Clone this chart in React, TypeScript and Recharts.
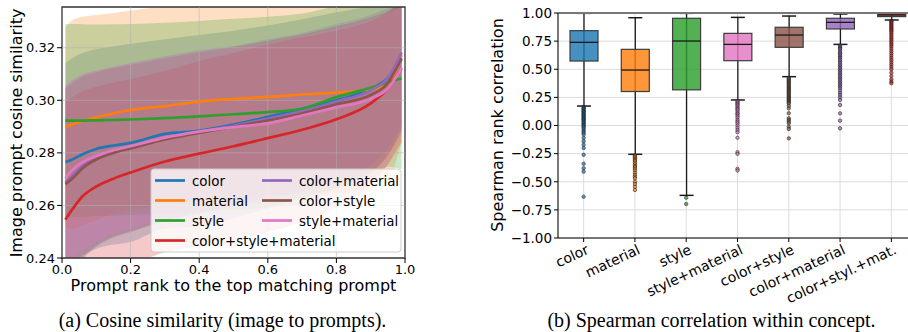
import React from 'react'
import {
  ComposedChart,
  Area,
  Line,
  Bar,
  Scatter,
  XAxis,
  YAxis,
  CartesianGrid,
  ReferenceLine,
  ReferenceArea,
} from 'recharts'

// ---- (a) cosine similarity vs prompt rank ----
const RANK = [0.01, 0.03, 0.06, 0.1, 0.15, 0.2, 0.3, 0.4, 0.5, 0.6, 0.7, 0.8, 0.9, 0.95, 0.99]

const COLOR_MEAN = [0.2765, 0.2775, 0.2795, 0.2815, 0.2828, 0.2838, 0.2872, 0.2884, 0.2908, 0.2937, 0.2968, 0.3, 0.3043, 0.3085, 0.3155]
const COLOR_LO = [0.2388, 0.239, 0.241, 0.2435, 0.2451, 0.2461, 0.2512, 0.252, 0.2551, 0.2589, 0.2628, 0.2665, 0.2726, 0.279, 0.289]
const COLOR_HI = [0.3142, 0.316, 0.318, 0.3195, 0.3205, 0.3215, 0.3232, 0.3248, 0.3265, 0.3285, 0.3308, 0.3335, 0.336, 0.338, 0.341]

const MATERIAL_MEAN = [0.2899, 0.2908, 0.2922, 0.2935, 0.295, 0.2963, 0.2978, 0.2995, 0.3005, 0.3013, 0.3022, 0.3029, 0.3042, 0.3063, 0.3172]
const MATERIAL_LO = [0.252, 0.2511, 0.2526, 0.2545, 0.2568, 0.2584, 0.26, 0.262, 0.263, 0.2636, 0.2644, 0.2648, 0.2664, 0.2696, 0.284]
const MATERIAL_HI = [0.3278, 0.3305, 0.3318, 0.3325, 0.3332, 0.3342, 0.3356, 0.337, 0.338, 0.339, 0.34, 0.341, 0.342, 0.343, 0.352]

const STYLE_MEAN = [0.2923, 0.2923, 0.2923, 0.2924, 0.2925, 0.2927, 0.2932, 0.2939, 0.2947, 0.2955, 0.2968, 0.3012, 0.3048, 0.3068, 0.3084]
const STYLE_LO = [0.2556, 0.2556, 0.2557, 0.256, 0.2561, 0.2564, 0.2569, 0.2576, 0.2584, 0.2592, 0.2606, 0.2666, 0.2716, 0.2746, 0.2738]
const STYLE_HI = [0.329, 0.329, 0.3289, 0.3288, 0.3289, 0.329, 0.3295, 0.3302, 0.331, 0.3318, 0.333, 0.3358, 0.338, 0.339, 0.34]

const CSM_MEAN = [0.2546, 0.2585, 0.2635, 0.2672, 0.2702, 0.2725, 0.2767, 0.2797, 0.2825, 0.2856, 0.2888, 0.2928, 0.2988, 0.3045, 0.3122]
const CSM_LO = [0.2097, 0.2158, 0.2235, 0.2292, 0.2336, 0.237, 0.2422, 0.2444, 0.247, 0.2499, 0.2536, 0.2591, 0.2674, 0.2755, 0.284]
const CSM_HI = [0.2995, 0.3012, 0.3035, 0.3052, 0.3068, 0.308, 0.3112, 0.315, 0.318, 0.3213, 0.324, 0.3265, 0.3302, 0.3335, 0.338]

const CM_MEAN = [0.2687, 0.2712, 0.275, 0.278, 0.2805, 0.2822, 0.2856, 0.288, 0.2903, 0.293, 0.2958, 0.2995, 0.3038, 0.3085, 0.3182]
const CM_LO = [0.232, 0.235, 0.2402, 0.2448, 0.2482, 0.2502, 0.2544, 0.257, 0.2599, 0.2628, 0.266, 0.27, 0.2751, 0.282, 0.2905]
const CM_HI = [0.3055, 0.3075, 0.3098, 0.3112, 0.3128, 0.3142, 0.3168, 0.319, 0.3207, 0.3232, 0.3256, 0.329, 0.3325, 0.335, 0.3375]

const CS_MEAN = [0.2681, 0.2702, 0.2742, 0.2775, 0.28, 0.2817, 0.2851, 0.2876, 0.29, 0.2923, 0.295, 0.2985, 0.302, 0.3066, 0.316]
const CS_LO = [0.2317, 0.2339, 0.2394, 0.2443, 0.2478, 0.2499, 0.2542, 0.2569, 0.2597, 0.262, 0.265, 0.2688, 0.2725, 0.2792, 0.288]
const CS_HI = [0.3045, 0.3065, 0.309, 0.3107, 0.3122, 0.3135, 0.316, 0.3183, 0.3203, 0.3226, 0.325, 0.3282, 0.3315, 0.334, 0.337]

const SM_MEAN = [0.2704, 0.2735, 0.2765, 0.2788, 0.281, 0.2825, 0.2858, 0.2881, 0.2898, 0.2912, 0.2942, 0.2973, 0.3006, 0.3045, 0.3122]
const SM_LO = [0.2356, 0.2392, 0.243, 0.2463, 0.2492, 0.251, 0.2552, 0.2577, 0.2594, 0.2604, 0.2639, 0.2671, 0.2704, 0.276, 0.2875]
const SM_HI = [0.3052, 0.3078, 0.31, 0.3113, 0.3128, 0.314, 0.3164, 0.3185, 0.3202, 0.322, 0.3245, 0.3275, 0.3308, 0.333, 0.336]

const LEFT_X_TICKS = [0, 0.2, 0.4, 0.6, 0.8, 1]
const LEFT_Y_TICKS = [0.24, 0.26, 0.28, 0.3, 0.32]

// plotting order = matplotlib draw order
const SERIES = [
  { key: 'color', label: 'color', stroke: '#1f77b4', mean: COLOR_MEAN, lo: COLOR_LO, hi: COLOR_HI },
  { key: 'material', label: 'material', stroke: '#ff7f0e', mean: MATERIAL_MEAN, lo: MATERIAL_LO, hi: MATERIAL_HI },
  { key: 'style', label: 'style', stroke: '#2ca02c', mean: STYLE_MEAN, lo: STYLE_LO, hi: STYLE_HI },
  { key: 'csm', label: 'color+style+material', stroke: '#d62728', mean: CSM_MEAN, lo: CSM_LO, hi: CSM_HI },
  { key: 'cm', label: 'color+material', stroke: '#9467bd', mean: CM_MEAN, lo: CM_LO, hi: CM_HI },
  { key: 'cs', label: 'color+style', stroke: '#8c564b', mean: CS_MEAN, lo: CS_LO, hi: CS_HI },
  { key: 'sm', label: 'style+material', stroke: '#e377c2', mean: SM_MEAN, lo: SM_LO, hi: SM_HI },
]

const curveData = RANK.map((x, i) => {
  const row: Record<string, any> = { x }
  SERIES.forEach((s) => {
    row[s.key] = s.mean[i]
    row[s.key + 'Band'] = [s.lo[i], s.hi[i]]
  })
  return row
})

// ---- (b) spearman box plots ----
const CONCEPTS = ['color', 'material', 'style', 'style+material', 'color+style', 'color+material', 'color+styl.+mat.']
const WHISKER_LO = [0.173, -0.256, -0.621, 0.227, 0.434, 0.721, 0.938]
const Q1 = [0.573, 0.302, 0.317, 0.576, 0.695, 0.858, 0.968]
const MEDIAN = [0.739, 0.493, 0.751, 0.721, 0.804, 0.917, 0.983]
const Q3 = [0.843, 0.677, 0.953, 0.819, 0.873, 0.953, 0.993]
const WHISKER_HI = [0.997, 0.958, 0.997, 0.961, 0.973, 0.991, 0.999]

const OUTLIERS = [
  [0.165, 0.155, 0.15, 0.14, 0.13, 0.125, 0.115, 0.105, 0.1, 0.09, 0.08, 0.075, 0.065, 0.055, 0.05, 0.04, 0.03, 0.02, 0.01, 0.0, -0.01, -0.02, -0.035, -0.05, -0.065, -0.08, -0.11, -0.14, -0.17, -0.2, -0.26, -0.34, -0.38, -0.41, -0.633],
  [-0.265, -0.275, -0.285, -0.295, -0.305, -0.315, -0.33, -0.345, -0.36, -0.37, -0.385, -0.4, -0.42, -0.44, -0.455, -0.47, -0.5, -0.52, -0.545, -0.573],
  [-0.642, -0.698],
  [0.215, 0.205, 0.195, 0.185, 0.175, 0.16, 0.15, 0.14, 0.125, 0.11, 0.1, 0.085, 0.07, 0.05, 0.035, 0.02, 0.0, -0.02, -0.04, -0.059, -0.109, -0.237, -0.252, -0.385, -0.4],
  [0.425, 0.415, 0.405, 0.395, 0.385, 0.375, 0.365, 0.355, 0.345, 0.335, 0.325, 0.315, 0.305, 0.295, 0.285, 0.275, 0.265, 0.255, 0.245, 0.235, 0.225, 0.215, 0.205, 0.197, 0.175, 0.153, 0.109, 0.064, 0.049, 0.035, 0.019, -0.011, -0.031, -0.114],
  [0.71, 0.7, 0.69, 0.68, 0.665, 0.65, 0.64, 0.625, 0.61, 0.6, 0.585, 0.57, 0.555, 0.54, 0.525, 0.51, 0.495, 0.48, 0.465, 0.45, 0.435, 0.42, 0.405, 0.39, 0.375, 0.36, 0.345, 0.33, 0.31, 0.29, 0.27, 0.25, 0.227, 0.182, 0.108, 0.043, -0.025],
  [0.93, 0.925, 0.915, 0.905, 0.895, 0.885, 0.875, 0.865, 0.855, 0.845, 0.835, 0.82, 0.805, 0.79, 0.775, 0.76, 0.745, 0.73, 0.715, 0.7, 0.68, 0.66, 0.64, 0.62, 0.6, 0.58, 0.56, 0.54, 0.52, 0.5, 0.47, 0.44, 0.41, 0.39, 0.375],
]

const RIGHT_Y_TICKS = [-1, -0.75, -0.5, -0.25, 0, 0.25, 0.5, 0.75, 1]
const BOX_COLORS = ['#1f77b4', '#ff7f0e', '#2ca02c', '#e377c2', '#8c564b', '#9467bd', '#d62728']

const boxData = CONCEPTS.map((name, i) => ({
  name,
  whisker: [WHISKER_LO[i], WHISKER_HI[i]],
  q1: Q1[i],
  median: MEDIAN[i],
  q3: Q3[i],
}))

const FONT = '"DejaVu Sans", sans-serif'
const SERIF = '"Liberation Serif", "Times New Roman", serif'

function BoxShape(props: any) {
  const { x, y, width, height, payload, index } = props
  const [lo, hi] = payload.whisker
  const toY = (v: number) => y + ((hi - v) / (hi - lo)) * height
  const cx = x + width / 2
  const cap = width / 4
  const yq3 = toY(payload.q3)
  const yq1 = toY(payload.q1)
  const ymed = toY(payload.median)
  return (
    <g>
      <line x1={cx} x2={cx} y1={y} y2={y + height} stroke="#1a1a1a" strokeWidth={1.3} />
      <line x1={cx - cap} x2={cx + cap} y1={y} y2={y} stroke="#1a1a1a" strokeWidth={1.5} />
      <line x1={cx - cap} x2={cx + cap} y1={y + height} y2={y + height} stroke="#1a1a1a" strokeWidth={1.5} />
      <rect
        x={x}
        y={yq3}
        width={width}
        height={Math.max(yq1 - yq3, 1)}
        fill={BOX_COLORS[index]}
        fillOpacity={0.82}
        stroke="#3c3c3c"
        strokeWidth={1.2}
      />
      <line x1={x} x2={x + width} y1={ymed} y2={ymed} stroke="#1a1a1a" strokeWidth={1.3} />
    </g>
  )
}

function ConceptTick(props: any) {
  const { x, y, payload } = props
  return (
    <text
      x={x + 2}
      y={y}
      dy="0.71em"
      textAnchor="end"
      transform={`rotate(-25, ${x + 2}, ${y})`}
      fontSize={14}
      fontFamily={FONT}
      fill="#000"
    >
      {payload.value}
    </text>
  )
}

const minus = (v: number) => (v < 0 ? '\u2212' + Math.abs(v).toFixed(2) : v.toFixed(2))

function CosineChart() {
  return (
    <ComposedChart width={420} height={300} data={curveData} margin={{ top: 7, right: 15, bottom: 0, left: 0 }}>
      <XAxis
        dataKey="x"
        type="number"
        domain={[0, 1]}
        ticks={LEFT_X_TICKS}
        tickFormatter={(v: number) => v.toFixed(1)}
        axisLine={false}
        tickSize={5}
        tickMargin={2}
        height={42}
        stroke="#000"
        tick={{ fontSize: 13, fontFamily: FONT, fill: '#000' }}
      />
      <YAxis
        type="number"
        domain={[0.24, 0.3355]}
        allowDataOverflow
        ticks={LEFT_Y_TICKS}
        tickFormatter={(v: number) => v.toFixed(2)}
        axisLine={false}
        tickSize={5}
        tickMargin={2}
        width={62}
        stroke="#000"
        tick={{ fontSize: 13, fontFamily: FONT, fill: '#000' }}
      />
      {SERIES.map((s) => (
        <Area
          key={s.key + 'Band'}
          dataKey={s.key + 'Band'}
          type="monotone"
          stroke="none"
          fill={s.stroke}
          fillOpacity={0.25}
          isAnimationActive={false}
        />
      ))}
      {LEFT_X_TICKS.slice(1, -1).map((t) => (
        <ReferenceLine key={'gx' + t} x={t} stroke="#b0b0b0" strokeOpacity={0.55} />
      ))}
      {LEFT_Y_TICKS.slice(1).map((t) => (
        <ReferenceLine key={'gy' + t} y={t} stroke="#b0b0b0" strokeOpacity={0.55} />
      ))}
      {SERIES.map((s) => (
        <Line
          key={s.key}
          dataKey={s.key}
          type="monotone"
          stroke={s.stroke}
          strokeWidth={2.7}
          dot={false}
          isAnimationActive={false}
        />
      ))}
      <ReferenceArea x1={0} x2={1} y1={0.24} y2={0.3355} fill="none" stroke="#333" strokeWidth={1.3} />
    </ComposedChart>
  )
}

function SpearmanChart() {
  return (
    <ComposedChart width={470} height={332} data={boxData} margin={{ top: 13, right: 7, bottom: 0, left: 0 }}>
      <CartesianGrid stroke="#dcdcdc" strokeWidth={1} />
      <XAxis
        dataKey="name"
        type="category"
        allowDuplicatedCategory={false}
        height={94}
        tickSize={4}
        tickMargin={2}
        stroke="#000"
        tick={<ConceptTick />}
        interval={0}
      />
      <YAxis
        type="number"
        domain={[-1, 1]}
        ticks={RIGHT_Y_TICKS}
        tickFormatter={minus}
        width={104}
        tickSize={4}
        tickMargin={2}
        stroke="#000"
        tick={{ fontSize: 13.5, fontFamily: FONT, fill: '#000' }}
      />
      <ReferenceLine y={1} stroke="#777" strokeWidth={2} />
      <Bar dataKey="whisker" barSize={28} shape={<BoxShape />} isAnimationActive={false} />
      {CONCEPTS.map((name, i) => (
        <Scatter
          key={name}
          data={OUTLIERS[i].map((v) => ({ name, v }))}
          dataKey="v"
          isAnimationActive={false}
          shape={(p: any) => (
            <circle cx={p.cx} cy={p.cy} r={1.7} fill={BOX_COLORS[i]} stroke="#1a1a1a" strokeWidth={0.8} opacity={0.75} />
          )}
        />
      ))}
    </ComposedChart>
  )
}

function LegendBox() {
  const col1 = [SERIES[0], SERIES[1], SERIES[2], SERIES[3]]
  const col2 = [SERIES[4], SERIES[5], SERIES[6]]
  const row = (s: (typeof SERIES)[number], i: number, x0: number) => (
    <g key={s.key}>
      <line x1={x0} x2={x0 + 30} y1={180.5 + i * 20} y2={180.5 + i * 20} stroke={s.stroke} strokeWidth={2.7} />
      <text x={x0 + 37} y={185.5 + i * 20} fontSize={13.4} fontFamily={FONT} fill="#000">
        {s.label}
      </text>
    </g>
  )
  return (
    <g>
      <rect x={151} y={169} width={250} height={83} rx={3} fill="#fff" fillOpacity={0.8} stroke="#cccccc" />
      {col1.map((s, i) => row(s, i, 155))}
      {col2.map((s, i) => row(s, i, 262))}
    </g>
  )
}

export default function App() {
  return (
    <div style={{ position: 'absolute', left: 0, top: 0, width: 908, height: 332, overflow: 'hidden', background: '#fff' }}>
      <div style={{ position: 'absolute', left: 0, top: 0 }}>
        <CosineChart />
      </div>
      <div style={{ position: 'absolute', left: 454, top: 0 }}>
        <SpearmanChart />
      </div>
      <svg width={908} height={332} style={{ position: 'absolute', left: 0, top: 0, pointerEvents: 'none' }}>
        <LegendBox />
        <text x={22} y={133} transform="rotate(-90, 22, 133)" textAnchor="middle" fontSize={16} fontFamily={FONT} fill="#000">
          Image prompt cosine similarity
        </text>
        <text x={233.5} y={290.5} textAnchor="middle" fontSize={16} fontFamily={FONT} fill="#000">
          Prompt rank to the top matching prompt
        </text>
        <text x={503} y={125} transform="rotate(-90, 503, 125)" textAnchor="middle" fontSize={16} fontFamily={FONT} fill="#000">
          Spearman rank correlation
        </text>
        <text x={222.5} y={326.5} textAnchor="middle" fontSize={20} fontFamily={SERIF} fill="#000">
          (a) Cosine similarity (image to prompts).
        </text>
        <text x={711.5} y={326.5} textAnchor="middle" fontSize={20} fontFamily={SERIF} fill="#000">
          (b) Spearman correlation within concept.
        </text>
      </svg>
    </div>
  )
}
